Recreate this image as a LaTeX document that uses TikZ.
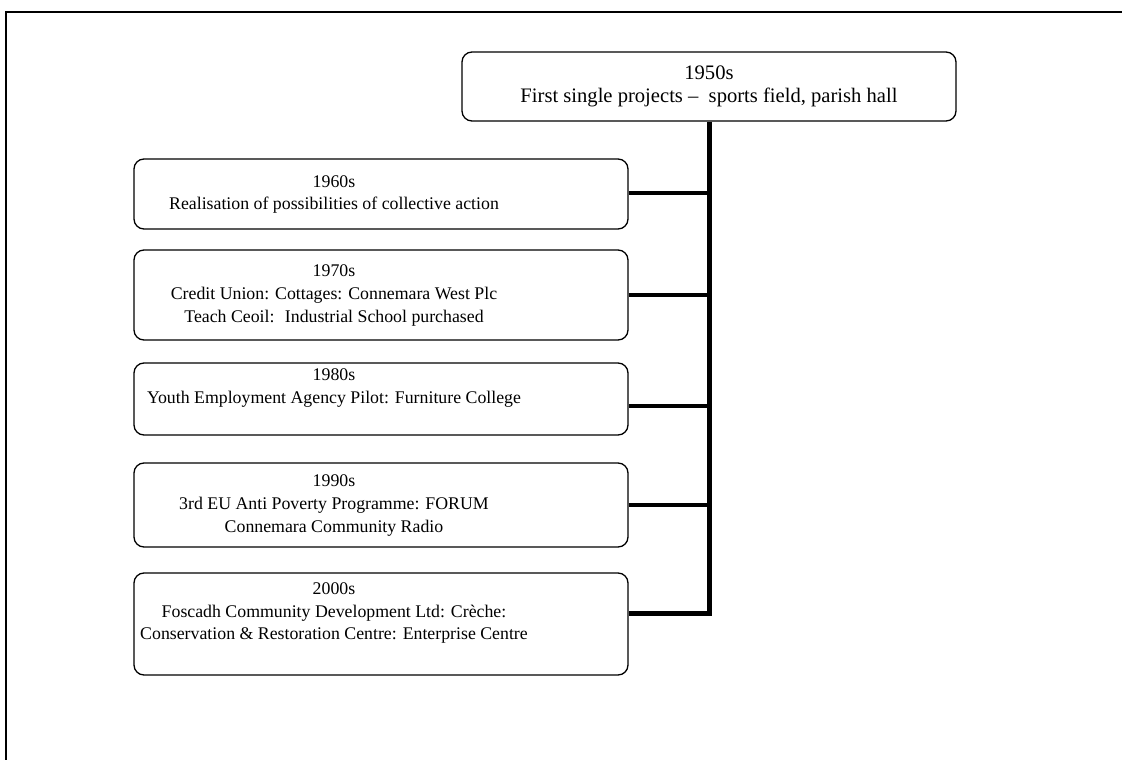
\documentclass[tikz,border=0pt]{standalone}
\usepackage{fontspec}
\setmainfont{Liberation Serif}
\usetikzlibrary{positioning}
\newcommand{\boxtext}[1]{\begin{tabular}{@{}c@{}}#1\end{tabular}\hspace{94pt}}

\begin{document}
\begin{tikzpicture}[x=1pt,y=-1pt,
  decade/.style={draw,line width=1.3,rounded corners=10,minimum width=494,align=center,inner sep=0,font=\fontsize{17.8}{22.8}\selectfont},
  link/.style={line width=4},
  trunk/.style={line width=5,line join=miter}]
\useasboundingbox (0,0) rectangle (1122,760);
\draw[line width=2] (6,760)--(6,12)--(1122,12);
\node[decade,minimum height=69,font=\fontsize{20.6}{23}\selectfont] (d50) at (709,86.5){1950s\\First single projects – \ sports field, parish hall};
\node[decade,minimum height=70] (d60) at (381,194){\boxtext{1960s\\Realisation of possibilities of collective action}};
\node[decade,minimum height=90] (d70) at (381,295){\boxtext{1970s\\Credit Union: Cottages: Connemara West Plc\\Teach Ceoil: \ Industrial School purchased}};
\node[decade,minimum height=72] (d80) at (381,399){\boxtext{1980s\\Youth Employment Agency Pilot: Furniture College\\\mbox{}}};
\node[decade,minimum height=84] (d90) at (381,505){\boxtext{1990s\\3rd EU Anti Poverty Programme: FORUM\\Connemara Community Radio}};
\node[decade,minimum height=102] (d00) at (381,624){\boxtext{2000s\\Foscadh Community Development Ltd: Crèche:\\Conservation \& Restoration Centre: Enterprise Centre\\\mbox{}}};
\draw[trunk] (d50.south) |- ([yshift=11]d00.east);
\draw[link] ([yshift=1]d60.east) -- ([yshift=1]d60.east -| d50.south);
\draw[link] (d70.east) -- (d70.east -| d50.south);
\draw[link] ([yshift=-7]d80.east) -- ([yshift=-7]d80.east -| d50.south);
\draw[link] (d90.east) -- (d90.east -| d50.south);
\end{tikzpicture}
\end{document}
